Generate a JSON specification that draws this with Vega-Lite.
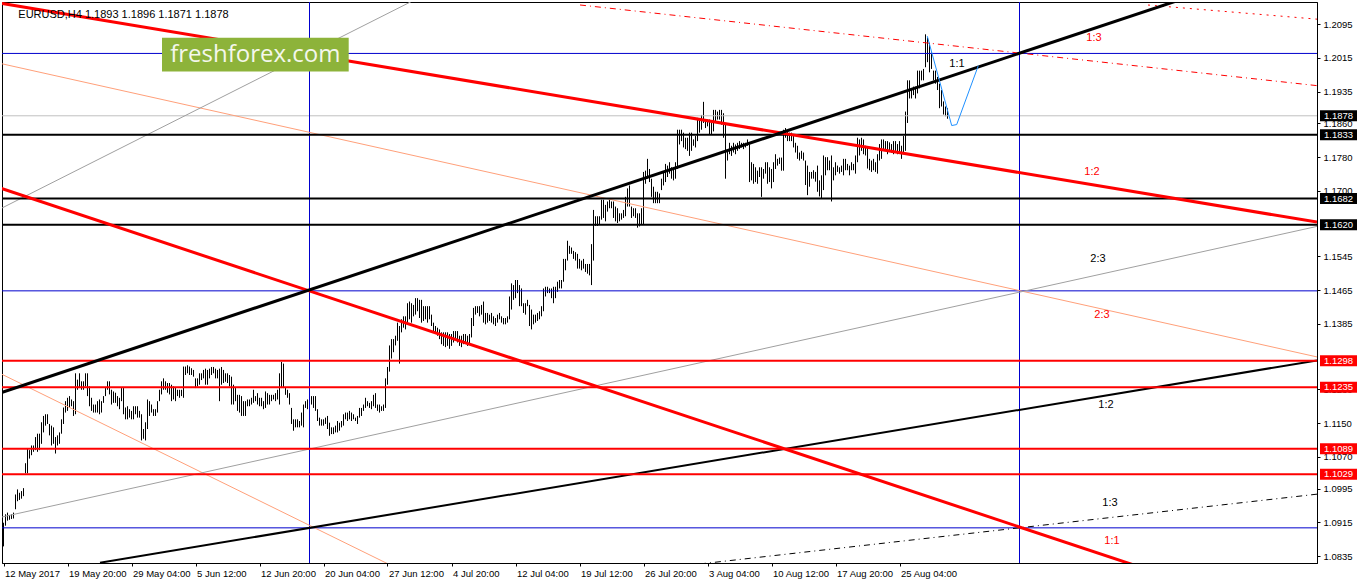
{
  "$schema": "https://vega.github.io/schema/vega-lite/v6.json",
  "width": 1315,
  "height": 561,
  "autosize": {"type": "none"},
  "padding": {"left": 2, "top": 2, "right": 41, "bottom": 21},
  "background": "white",
  "config": {
    "view": {"stroke": "black", "strokeWidth": 1},
    "text": {"font": "Liberation Sans"}
  },
  "datasets": {
    "bars": [
      {"i":0,"h":1.0914,"l":1.0858},{"i":1,"h":1.0934,"l":1.0907},{"i":2,"h":1.0938,"l":1.0919},{"i":3,"h":1.0932,"l":1.0921},
      {"i":4,"h":1.0934,"l":1.0923},{"i":5,"h":1.0938,"l":1.0924},{"i":6,"h":1.0981,"l":1.0946},{"i":7,"h":1.0993,"l":1.0965},
      {"i":8,"h":1.0985,"l":1.0968},{"i":9,"h":1.0989,"l":1.0971},{"i":10,"h":1.0996,"l":1.0977},{"i":11,"h":1.1055,"l":1.1031},
      {"i":12,"h":1.1090,"l":1.1031},{"i":13,"h":1.1086,"l":1.1066},{"i":14,"h":1.1097,"l":1.1074},{"i":15,"h":1.1097,"l":1.1082},
      {"i":16,"h":1.1117,"l":1.1086},{"i":17,"h":1.1125,"l":1.1082},{"i":18,"h":1.1125,"l":1.1086},{"i":19,"h":1.1152,"l":1.1101},
      {"i":20,"h":1.1167,"l":1.1128},{"i":21,"h":1.1171,"l":1.1144},{"i":22,"h":1.1171,"l":1.1148},{"i":23,"h":1.1148,"l":1.1121},
      {"i":24,"h":1.1144,"l":1.1097},{"i":25,"h":1.1140,"l":1.1101},{"i":26,"h":1.1117,"l":1.1078},{"i":27,"h":1.1121,"l":1.1097},
      {"i":28,"h":1.1128,"l":1.1101},{"i":29,"h":1.1159,"l":1.1125},{"i":30,"h":1.1187,"l":1.1148},{"i":31,"h":1.1202,"l":1.1175},
      {"i":32,"h":1.1210,"l":1.1179},{"i":33,"h":1.1214,"l":1.1187},{"i":34,"h":1.1206,"l":1.1190},{"i":35,"h":1.1202,"l":1.1167},
      {"i":36,"h":1.1268,"l":1.1171},{"i":37,"h":1.1253,"l":1.1229},{"i":38,"h":1.1268,"l":1.1233},{"i":39,"h":1.1249,"l":1.1229},
      {"i":40,"h":1.1249,"l":1.1229},{"i":41,"h":1.1268,"l":1.1237},{"i":42,"h":1.1268,"l":1.1214},{"i":43,"h":1.1237,"l":1.1190},
      {"i":44,"h":1.1210,"l":1.1179},{"i":45,"h":1.1194,"l":1.1175},{"i":46,"h":1.1194,"l":1.1175},{"i":47,"h":1.1202,"l":1.1175},
      {"i":48,"h":1.1206,"l":1.1171},{"i":49,"h":1.1202,"l":1.1175},{"i":50,"h":1.1214,"l":1.1198},{"i":51,"h":1.1233,"l":1.1214},
      {"i":52,"h":1.1249,"l":1.1229},{"i":53,"h":1.1249,"l":1.1218},{"i":54,"h":1.1229,"l":1.1194},{"i":55,"h":1.1225,"l":1.1198},
      {"i":56,"h":1.1222,"l":1.1198},{"i":57,"h":1.1214,"l":1.1190},{"i":58,"h":1.1210,"l":1.1183},{"i":59,"h":1.1233,"l":1.1202},
      {"i":60,"h":1.1233,"l":1.1171},{"i":61,"h":1.1187,"l":1.1159},{"i":62,"h":1.1190,"l":1.1159},{"i":63,"h":1.1183,"l":1.1163},
      {"i":64,"h":1.1179,"l":1.1159},{"i":65,"h":1.1190,"l":1.1159},{"i":66,"h":1.1190,"l":1.1171},{"i":67,"h":1.1190,"l":1.1163},
      {"i":68,"h":1.1179,"l":1.1163},{"i":69,"h":1.1171,"l":1.1109},{"i":70,"h":1.1136,"l":1.1113},{"i":71,"h":1.1152,"l":1.1109},
      {"i":72,"h":1.1206,"l":1.1136},{"i":73,"h":1.1202,"l":1.1167},{"i":74,"h":1.1194,"l":1.1175},{"i":75,"h":1.1183,"l":1.1167},
      {"i":76,"h":1.1183,"l":1.1167},{"i":77,"h":1.1202,"l":1.1175},{"i":78,"h":1.1229,"l":1.1202},{"i":79,"h":1.1249,"l":1.1218},
      {"i":80,"h":1.1256,"l":1.1229},{"i":81,"h":1.1249,"l":1.1229},{"i":82,"h":1.1245,"l":1.1222},{"i":83,"h":1.1245,"l":1.1218},
      {"i":84,"h":1.1241,"l":1.1202},{"i":85,"h":1.1237,"l":1.1206},{"i":86,"h":1.1233,"l":1.1202},{"i":87,"h":1.1229,"l":1.1214},
      {"i":88,"h":1.1229,"l":1.1210},{"i":89,"h":1.1229,"l":1.1214},{"i":90,"h":1.1284,"l":1.1210},{"i":91,"h":1.1284,"l":1.1264},
      {"i":92,"h":1.1287,"l":1.1268},{"i":93,"h":1.1284,"l":1.1264},{"i":94,"h":1.1280,"l":1.1264},{"i":95,"h":1.1276,"l":1.1260},
      {"i":96,"h":1.1256,"l":1.1233},{"i":97,"h":1.1256,"l":1.1237},{"i":98,"h":1.1268,"l":1.1241},
      {"i":99,"h":1.1268,"l":1.1252},{"i":100,"h":1.1276,"l":1.1256},{"i":101,"h":1.1279,"l":1.1241},{"i":102,"h":1.1276,"l":1.1241},
      {"i":103,"h":1.1279,"l":1.1256},{"i":104,"h":1.1283,"l":1.1264},{"i":105,"h":1.1283,"l":1.1268},{"i":106,"h":1.1279,"l":1.1256},
      {"i":107,"h":1.1276,"l":1.1256},{"i":108,"h":1.1279,"l":1.1202},{"i":109,"h":1.1283,"l":1.1241},{"i":110,"h":1.1276,"l":1.1245},
      {"i":111,"h":1.1268,"l":1.1248},{"i":112,"h":1.1268,"l":1.1245},{"i":113,"h":1.1264,"l":1.1237},{"i":114,"h":1.1260,"l":1.1194},
      {"i":115,"h":1.1241,"l":1.1194},{"i":116,"h":1.1233,"l":1.1202},{"i":117,"h":1.1217,"l":1.1179},{"i":118,"h":1.1217,"l":1.1175},
      {"i":119,"h":1.1214,"l":1.1167},{"i":120,"h":1.1202,"l":1.1167},{"i":121,"h":1.1202,"l":1.1167},{"i":122,"h":1.1206,"l":1.1190},
      {"i":123,"h":1.1206,"l":1.1190},{"i":124,"h":1.1210,"l":1.1194},{"i":125,"h":1.1229,"l":1.1198},{"i":126,"h":1.1214,"l":1.1202},
      {"i":127,"h":1.1221,"l":1.1194},{"i":128,"h":1.1210,"l":1.1190},{"i":129,"h":1.1210,"l":1.1190},{"i":130,"h":1.1202,"l":1.1183},
      {"i":131,"h":1.1225,"l":1.1186},{"i":132,"h":1.1221,"l":1.1194},{"i":133,"h":1.1217,"l":1.1194},{"i":134,"h":1.1217,"l":1.1202},
      {"i":135,"h":1.1217,"l":1.1206},{"i":136,"h":1.1221,"l":1.1202},{"i":137,"h":1.1229,"l":1.1206},{"i":138,"h":1.1268,"l":1.1194},
      {"i":139,"h":1.1295,"l":1.1233},{"i":140,"h":1.1291,"l":1.1233},{"i":141,"h":1.1233,"l":1.1217},{"i":142,"h":1.1229,"l":1.1210},
      {"i":143,"h":1.1221,"l":1.1194},{"i":144,"h":1.1186,"l":1.1148},{"i":145,"h":1.1159,"l":1.1132},{"i":146,"h":1.1159,"l":1.1140},
      {"i":147,"h":1.1159,"l":1.1140},{"i":148,"h":1.1155,"l":1.1140},{"i":149,"h":1.1175,"l":1.1144},{"i":150,"h":1.1194,"l":1.1140},
      {"i":151,"h":1.1202,"l":1.1186},{"i":152,"h":1.1206,"l":1.1183},{"i":153,"h":1.1210,"l":1.1190},{"i":154,"h":1.1214,"l":1.1194},
      {"i":155,"h":1.1214,"l":1.1186},{"i":156,"h":1.1214,"l":1.1179},{"i":157,"h":1.1183,"l":1.1155},{"i":158,"h":1.1163,"l":1.1144},
      {"i":159,"h":1.1159,"l":1.1144},{"i":160,"h":1.1159,"l":1.1144},{"i":161,"h":1.1163,"l":1.1148},{"i":162,"h":1.1167,"l":1.1136},
      {"i":163,"h":1.1151,"l":1.1120},{"i":164,"h":1.1140,"l":1.1124},{"i":165,"h":1.1140,"l":1.1124},{"i":166,"h":1.1144,"l":1.1128},
      {"i":167,"h":1.1155,"l":1.1128},{"i":168,"h":1.1151,"l":1.1132},{"i":169,"h":1.1155,"l":1.1140},{"i":170,"h":1.1171,"l":1.1144},
      {"i":171,"h":1.1175,"l":1.1159},{"i":172,"h":1.1175,"l":1.1155},{"i":173,"h":1.1179,"l":1.1159},{"i":174,"h":1.1175,"l":1.1155},
      {"i":175,"h":1.1171,"l":1.1159},{"i":176,"h":1.1163,"l":1.1155},{"i":177,"h":1.1167,"l":1.1148},{"i":178,"h":1.1186,"l":1.1163},
      {"i":179,"h":1.1186,"l":1.1167},{"i":180,"h":1.1194,"l":1.1179},{"i":181,"h":1.1210,"l":1.1186},{"i":182,"h":1.1202,"l":1.1190},
      {"i":183,"h":1.1198,"l":1.1186},{"i":184,"h":1.1202,"l":1.1183},{"i":185,"h":1.1217,"l":1.1190},{"i":186,"h":1.1221,"l":1.1186},
      {"i":187,"h":1.1194,"l":1.1179},{"i":188,"h":1.1194,"l":1.1175},{"i":189,"h":1.1190,"l":1.1179},{"i":190,"h":1.1194,"l":1.1179},
      {"i":191,"h":1.1256,"l":1.1186},{"i":192,"h":1.1283,"l":1.1241},{"i":193,"h":1.1334,"l":1.1272},{"i":194,"h":1.1349,"l":1.1303},
      {"i":195,"h":1.1349,"l":1.1318},{"i":196,"h":1.1357,"l":1.1334},{"i":197,"h":1.1388,"l":1.1345},{"i":198,"h":1.1380,"l":1.1291},
      {"i":199,"h":1.1396,"l":1.1365},{"i":200,"h":1.1403,"l":1.1376},{"i":201,"h":1.1403,"l":1.1372},{"i":202,"h":1.1434,"l":1.1388},
      {"i":203,"h":1.1438,"l":1.1396},{"i":204,"h":1.1434,"l":1.1388},{"i":205,"h":1.1430,"l":1.1403},{"i":206,"h":1.1446,"l":1.1407},
      {"i":207,"h":1.1446,"l":1.1415},{"i":208,"h":1.1442,"l":1.1399},{"i":209,"h":1.1442,"l":1.1388},{"i":210,"h":1.1427,"l":1.1392},
      {"i":211,"h":1.1427,"l":1.1396},{"i":212,"h":1.1427,"l":1.1388},{"i":213,"h":1.1427,"l":1.1396},{"i":214,"h":1.1407,"l":1.1380},
      {"i":215,"h":1.1388,"l":1.1365},{"i":216,"h":1.1380,"l":1.1365},{"i":217,"h":1.1376,"l":1.1357},{"i":218,"h":1.1372,"l":1.1349},
      {"i":219,"h":1.1365,"l":1.1337},{"i":220,"h":1.1365,"l":1.1333},{"i":221,"h":1.1365,"l":1.1330},{"i":222,"h":1.1365,"l":1.1333},
      {"i":223,"h":1.1361,"l":1.1326},{"i":224,"h":1.1361,"l":1.1333},{"i":225,"h":1.1368,"l":1.1341},{"i":226,"h":1.1368,"l":1.1345},
      {"i":227,"h":1.1368,"l":1.1341},{"i":228,"h":1.1357,"l":1.1333},{"i":229,"h":1.1357,"l":1.1330},{"i":230,"h":1.1361,"l":1.1337},
      {"i":231,"h":1.1361,"l":1.1341},{"i":232,"h":1.1357,"l":1.1333},{"i":233,"h":1.1361,"l":1.1337},{"i":234,"h":1.1399,"l":1.1353},
      {"i":235,"h":1.1423,"l":1.1380},{"i":236,"h":1.1427,"l":1.1407},{"i":237,"h":1.1427,"l":1.1411},{"i":238,"h":1.1427,"l":1.1403},
      {"i":239,"h":1.1430,"l":1.1407},{"i":240,"h":1.1438,"l":1.1388},{"i":241,"h":1.1411,"l":1.1384},{"i":242,"h":1.1411,"l":1.1388},
      {"i":243,"h":1.1407,"l":1.1392},{"i":244,"h":1.1411,"l":1.1388},{"i":245,"h":1.1403,"l":1.1384},{"i":246,"h":1.1399,"l":1.1380},
      {"i":247,"h":1.1407,"l":1.1388},{"i":248,"h":1.1411,"l":1.1396},{"i":249,"h":1.1403,"l":1.1388},{"i":250,"h":1.1399,"l":1.1384},
      {"i":251,"h":1.1399,"l":1.1384},{"i":252,"h":1.1403,"l":1.1388},{"i":253,"h":1.1450,"l":1.1396},{"i":254,"h":1.1481,"l":1.1419},
      {"i":255,"h":1.1477,"l":1.1442},{"i":256,"h":1.1489,"l":1.1446},{"i":257,"h":1.1489,"l":1.1458},{"i":258,"h":1.1477,"l":1.1427},
      {"i":259,"h":1.1469,"l":1.1427},{"i":260,"h":1.1434,"l":1.1411},{"i":261,"h":1.1434,"l":1.1407},{"i":262,"h":1.1442,"l":1.1427},
      {"i":263,"h":1.1430,"l":1.1380},{"i":264,"h":1.1419,"l":1.1372},{"i":265,"h":1.1407,"l":1.1384},{"i":266,"h":1.1407,"l":1.1388},
      {"i":267,"h":1.1411,"l":1.1392},{"i":268,"h":1.1415,"l":1.1396},{"i":269,"h":1.1427,"l":1.1403},{"i":270,"h":1.1469,"l":1.1415},
      {"i":271,"h":1.1473,"l":1.1450},{"i":272,"h":1.1473,"l":1.1458},{"i":273,"h":1.1469,"l":1.1458},{"i":274,"h":1.1469,"l":1.1446},
      {"i":275,"h":1.1473,"l":1.1434},{"i":276,"h":1.1473,"l":1.1446},{"i":277,"h":1.1485,"l":1.1461},{"i":278,"h":1.1489,"l":1.1469},
      {"i":279,"h":1.1489,"l":1.1469},{"i":280,"h":1.1539,"l":1.1485},{"i":281,"h":1.1539,"l":1.1512},{"i":282,"h":1.1582,"l":1.1535},
      {"i":283,"h":1.1570,"l":1.1551},{"i":284,"h":1.1566,"l":1.1551},{"i":285,"h":1.1558,"l":1.1539},{"i":286,"h":1.1555,"l":1.1535},
      {"i":287,"h":1.1551,"l":1.1516},{"i":288,"h":1.1539,"l":1.1516},{"i":289,"h":1.1535,"l":1.1512},{"i":290,"h":1.1539,"l":1.1516},
      {"i":291,"h":1.1527,"l":1.1508},{"i":292,"h":1.1527,"l":1.1504},{"i":293,"h":1.1527,"l":1.1500},{"i":294,"h":1.1574,"l":1.1477},
      {"i":295,"h":1.1655,"l":1.1535},{"i":296,"h":1.1640,"l":1.1617},{"i":297,"h":1.1640,"l":1.1617},{"i":298,"h":1.1640,"l":1.1621},
      {"i":299,"h":1.1679,"l":1.1632},{"i":300,"h":1.1679,"l":1.1636},{"i":301,"h":1.1667,"l":1.1628},{"i":302,"h":1.1675,"l":1.1651},
      {"i":303,"h":1.1679,"l":1.1659},{"i":304,"h":1.1675,"l":1.1659},{"i":305,"h":1.1675,"l":1.1636},{"i":306,"h":1.1663,"l":1.1628},
      {"i":307,"h":1.1659,"l":1.1624},{"i":308,"h":1.1647,"l":1.1628},{"i":309,"h":1.1647,"l":1.1632},{"i":310,"h":1.1655,"l":1.1636},
      {"i":311,"h":1.1686,"l":1.1640},{"i":312,"h":1.1706,"l":1.1663},{"i":313,"h":1.1713,"l":1.1663},{"i":314,"h":1.1663,"l":1.1636},
      {"i":315,"h":1.1659,"l":1.1640},{"i":316,"h":1.1659,"l":1.1636},{"i":317,"h":1.1647,"l":1.1613},{"i":318,"h":1.1647,"l":1.1616},
      {"i":319,"h":1.1659,"l":1.1620},{"i":320,"h":1.1745,"l":1.1620},{"i":321,"h":1.1748,"l":1.1717},{"i":322,"h":1.1776,"l":1.1729},
      {"i":323,"h":1.1752,"l":1.1721},{"i":324,"h":1.1729,"l":1.1686},{"i":325,"h":1.1710,"l":1.1671},{"i":326,"h":1.1698,"l":1.1671},
      {"i":327,"h":1.1698,"l":1.1671},{"i":328,"h":1.1694,"l":1.1671},{"i":329,"h":1.1729,"l":1.1702},{"i":330,"h":1.1745,"l":1.1713},
      {"i":331,"h":1.1764,"l":1.1721},{"i":332,"h":1.1760,"l":1.1733},{"i":333,"h":1.1768,"l":1.1741},{"i":334,"h":1.1756,"l":1.1729},
      {"i":335,"h":1.1752,"l":1.1725},{"i":336,"h":1.1768,"l":1.1729},{"i":337,"h":1.1845,"l":1.1752},{"i":338,"h":1.1845,"l":1.1810},
      {"i":339,"h":1.1845,"l":1.1818},{"i":340,"h":1.1838,"l":1.1803},{"i":341,"h":1.1826,"l":1.1799},{"i":342,"h":1.1826,"l":1.1795},
      {"i":343,"h":1.1838,"l":1.1783},{"i":344,"h":1.1838,"l":1.1795},{"i":345,"h":1.1822,"l":1.1807},{"i":346,"h":1.1830,"l":1.1803},
      {"i":347,"h":1.1873,"l":1.1818},{"i":348,"h":1.1869,"l":1.1838},{"i":349,"h":1.1880,"l":1.1845},{"i":350,"h":1.1911,"l":1.1861},
      {"i":351,"h":1.1865,"l":1.1849},{"i":352,"h":1.1869,"l":1.1853},{"i":353,"h":1.1869,"l":1.1834},{"i":354,"h":1.1861,"l":1.1834},
      {"i":355,"h":1.1892,"l":1.1841},{"i":356,"h":1.1892,"l":1.1861},{"i":357,"h":1.1888,"l":1.1869},{"i":358,"h":1.1892,"l":1.1869},
      {"i":359,"h":1.1892,"l":1.1857},{"i":360,"h":1.1884,"l":1.1826},{"i":361,"h":1.1857,"l":1.1729},{"i":362,"h":1.1799,"l":1.1772},
      {"i":363,"h":1.1814,"l":1.1787},{"i":364,"h":1.1807,"l":1.1783},{"i":365,"h":1.1814,"l":1.1791},{"i":366,"h":1.1810,"l":1.1787},
      {"i":367,"h":1.1814,"l":1.1795},{"i":368,"h":1.1818,"l":1.1799},{"i":369,"h":1.1814,"l":1.1803},{"i":370,"h":1.1814,"l":1.1799},
      {"i":371,"h":1.1814,"l":1.1803},{"i":372,"h":1.1822,"l":1.1807},{"i":373,"h":1.1810,"l":1.1721},{"i":374,"h":1.1768,"l":1.1725},
      {"i":375,"h":1.1764,"l":1.1717},{"i":376,"h":1.1756,"l":1.1721},{"i":377,"h":1.1748,"l":1.1717},{"i":378,"h":1.1756,"l":1.1733},
      {"i":379,"h":1.1756,"l":1.1686},{"i":380,"h":1.1752,"l":1.1729},{"i":381,"h":1.1768,"l":1.1741},{"i":382,"h":1.1768,"l":1.1717},
      {"i":383,"h":1.1756,"l":1.1721},{"i":384,"h":1.1752,"l":1.1706},{"i":385,"h":1.1768,"l":1.1721},{"i":386,"h":1.1787,"l":1.1752},
      {"i":387,"h":1.1776,"l":1.1760},{"i":388,"h":1.1779,"l":1.1764},{"i":389,"h":1.1779,"l":1.1748},{"i":390,"h":1.1845,"l":1.1748},
      {"i":391,"h":1.1849,"l":1.1826},{"i":392,"h":1.1841,"l":1.1818},{"i":393,"h":1.1838,"l":1.1818},{"i":394,"h":1.1838,"l":1.1818},
      {"i":395,"h":1.1830,"l":1.1803},{"i":396,"h":1.1814,"l":1.1791},{"i":397,"h":1.1807,"l":1.1776},{"i":398,"h":1.1791,"l":1.1772},
      {"i":399,"h":1.1795,"l":1.1776},{"i":400,"h":1.1791,"l":1.1772},{"i":401,"h":1.1772,"l":1.1714},{"i":402,"h":1.1760,"l":1.1690},
      {"i":403,"h":1.1745,"l":1.1710},{"i":404,"h":1.1745,"l":1.1729},{"i":405,"h":1.1749,"l":1.1729},{"i":406,"h":1.1745,"l":1.1722},
      {"i":407,"h":1.1760,"l":1.1698},{"i":408,"h":1.1725,"l":1.1687},{"i":409,"h":1.1737,"l":1.1683},{"i":410,"h":1.1784,"l":1.1702},
      {"i":411,"h":1.1780,"l":1.1737},{"i":412,"h":1.1780,"l":1.1749},{"i":413,"h":1.1772,"l":1.1749},{"i":414,"h":1.1784,"l":1.1675},
      {"i":415,"h":1.1756,"l":1.1725},{"i":416,"h":1.1768,"l":1.1737},{"i":417,"h":1.1760,"l":1.1745},{"i":418,"h":1.1756,"l":1.1741},
      {"i":419,"h":1.1760,"l":1.1745},{"i":420,"h":1.1776,"l":1.1737},{"i":421,"h":1.1776,"l":1.1749},{"i":422,"h":1.1764,"l":1.1749},
      {"i":423,"h":1.1760,"l":1.1737},{"i":424,"h":1.1768,"l":1.1749},{"i":425,"h":1.1764,"l":1.1749},{"i":426,"h":1.1784,"l":1.1741},
      {"i":427,"h":1.1826,"l":1.1768},{"i":428,"h":1.1822,"l":1.1784},{"i":429,"h":1.1826,"l":1.1795},{"i":430,"h":1.1822,"l":1.1787},
      {"i":431,"h":1.1807,"l":1.1784},{"i":432,"h":1.1803,"l":1.1753},{"i":433,"h":1.1776,"l":1.1749},{"i":434,"h":1.1772,"l":1.1745},
      {"i":435,"h":1.1776,"l":1.1749},{"i":436,"h":1.1768,"l":1.1745},{"i":437,"h":1.1787,"l":1.1741},{"i":438,"h":1.1811,"l":1.1772},
      {"i":439,"h":1.1822,"l":1.1776},{"i":440,"h":1.1822,"l":1.1795},{"i":441,"h":1.1818,"l":1.1795},{"i":442,"h":1.1818,"l":1.1787},
      {"i":443,"h":1.1815,"l":1.1795},{"i":444,"h":1.1811,"l":1.1791},{"i":445,"h":1.1818,"l":1.1787},{"i":446,"h":1.1818,"l":1.1795},
      {"i":447,"h":1.1811,"l":1.1787},{"i":448,"h":1.1818,"l":1.1791},{"i":449,"h":1.1807,"l":1.1776},{"i":450,"h":1.1830,"l":1.1787},
      {"i":451,"h":1.1888,"l":1.1795},{"i":452,"h":1.1962,"l":1.1861},{"i":453,"h":1.1962,"l":1.1919},{"i":454,"h":1.1943,"l":1.1919},
      {"i":455,"h":1.1947,"l":1.1927},{"i":456,"h":1.1947,"l":1.1919},{"i":457,"h":1.1985,"l":1.1931},{"i":458,"h":1.1985,"l":1.1943},
      {"i":459,"h":1.1985,"l":1.1962},{"i":460,"h":1.1989,"l":1.1962},{"i":461,"h":1.2071,"l":1.1993},{"i":462,"h":1.2063,"l":1.2005},
      {"i":463,"h":1.2051,"l":1.1981},{"i":464,"h":1.2028,"l":1.1989},{"i":465,"h":1.1985,"l":1.1962},{"i":466,"h":1.1985,"l":1.1954},
      {"i":467,"h":1.1970,"l":1.1939},{"i":468,"h":1.1954,"l":1.1896},{"i":469,"h":1.1939,"l":1.1900},{"i":470,"h":1.1912,"l":1.1881},
      {"i":471,"h":1.1900,"l":1.1877},{"i":472,"h":1.1896,"l":1.1871}
    ],
    "levels": [
      {"kind":"last","p":1.1878},
      {"kind":"support","p":1.1833},{"kind":"support","p":1.1682},{"kind":"support","p":1.1620},
      {"kind":"level","p":1.1298},{"kind":"level","p":1.1235},{"kind":"level","p":1.1089},{"kind":"level","p":1.1029},
      {"kind":"marker","p":1.20257},{"kind":"marker","p":1.14633},{"kind":"marker","p":1.09019}
    ],
    "verticals": [{"i":153},{"i":508}],
    "trends": [
      {"id":"channel","i":-1.75,"p":1.12214},{"id":"channel","i":656.75,"p":1.22609},
      {"id":"upper","i":-1.75,"p":1.2145},{"id":"upper","i":656.75,"p":1.16262},
      {"id":"lower","i":-1.75,"p":1.17069},{"id":"lower","i":656.75,"p":1.06697},
      {"id":"downFan23","i":-1.75,"p":1.20022},{"id":"downFan23","i":656.75,"p":1.13068},
      {"id":"downFanLow","i":-1.75,"p":1.12679},{"id":"downFanLow","i":198.25,"p":1.08026},
      {"id":"grayUp","i":-1.75,"p":1.16572},{"id":"grayUp","i":208.25,"p":1.2159},
      {"id":"upFan23","i":-1.75,"p":1.09266},{"id":"upFan23","i":656.75,"p":1.1616},
      {"id":"upFan12","i":48.25,"p":1.08193},{"id":"upFan12","i":656.75,"p":1.12986},
      {"id":"upFan13","i":348.25,"p":1.08164},{"id":"upFan13","i":656.75,"p":1.09817},
      {"id":"downFan13","i":288.25,"p":1.21405},{"id":"downFan13","i":656.75,"p":1.19494},
      {"id":"downFanTop","i":572.25,"p":1.21404},{"id":"downFanTop","i":656.75,"p":1.21069},
      {"id":"projection","i":461.9,"p":1.20666},{"id":"projection","i":474.1,"p":1.18549},
      {"id":"projection","i":476.6,"p":1.18572},{"id":"projection","i":487.4,"p":1.19968}
    ],
    "fanLabels": [
      {"fan":"down","t":"1:3","i":545.25,"p":1.20613},
      {"fan":"up","t":"1:1","i":476.75,"p":1.20008},
      {"fan":"down","t":"1:2","i":544.25,"p":1.17449},
      {"fan":"up","t":"2:3","i":547.25,"p":1.15378},
      {"fan":"down","t":"2:3","i":549.25,"p":1.14052},
      {"fan":"up","t":"1:2","i":551.25,"p":1.11934},
      {"fan":"up","t":"1:3","i":553.25,"p":1.09608},
      {"fan":"down","t":"1:1","i":554.25,"p":1.087}
    ],
    "tags": [
      {"kind":"last","p":1.1878},{"kind":"support","p":1.1833},{"kind":"support","p":1.1682},{"kind":"support","p":1.162},
      {"kind":"level","p":1.1298},{"kind":"level","p":1.1235},{"kind":"level","p":1.1089},{"kind":"level","p":1.1029}
    ]
  },
  "layer": [
    {
      "data": {"name": "bars"},
      "mark": {"type": "rule", "color": "black", "strokeWidth": 1},
      "encoding": {
        "x": {
          "field": "i", "type": "quantitative",
          "scale": {"domain": [-0.75, 656.75], "nice": false, "zero": false},
          "axis": {
            "title": null, "grid": false,
            "values": [0, 32, 64, 96, 128, 160, 192, 224, 256, 288, 320, 352, 384, 416, 448],
            "labelExpr": "['12 May 2017','19 May 20:00','29 May 04:00','5 Jun 12:00','12 Jun 20:00','20 Jun 04:00','27 Jun 12:00','4 Jul 20:00','12 Jul 04:00','19 Jul 12:00','26 Jul 20:00','3 Aug 04:00','10 Aug 12:00','17 Aug 20:00','25 Aug 04:00'][round(datum.value / 32)]",
            "labelAlign": "left", "labelBaseline": "top", "labelOffset": 1, "labelPadding": 2,
            "labelFont": "Liberation Sans", "labelFontSize": 9.5, "labelColor": "black",
            "labelOverlap": false, "labelFlush": false,
            "domainColor": "black", "tickColor": "black", "tickSize": 3
          }
        },
        "y": {
          "field": "l", "type": "quantitative",
          "scale": {"domain": [1.08305, 1.21357], "nice": false, "zero": false},
          "axis": {
            "orient": "right", "title": null, "grid": false,
            "values": [1.2095, 1.2015, 1.1935, 1.186, 1.178, 1.17, 1.1545, 1.1465, 1.1385, 1.123, 1.115, 1.107, 1.0995, 1.0915, 1.0835],
            "format": ".4f",
            "labelFont": "Liberation Sans", "labelFontSize": 9.5, "labelColor": "black",
            "labelPadding": 3, "labelOverlap": false, "labelFlush": false,
            "domainColor": "black", "tickColor": "black", "tickSize": 3
          }
        },
        "y2": {"field": "h"}
      }
    },
    {
      "data": {"name": "levels"},
      "transform": [{"filter": "datum.kind === 'last'"}],
      "mark": {"type": "rule", "color": "#C0C0C0", "strokeWidth": 1},
      "encoding": {"y": {"field": "p", "type": "quantitative"}}
    },
    {
      "data": {"name": "levels"},
      "transform": [{"filter": "datum.kind === 'marker'"}],
      "mark": {"type": "rule", "color": "#0000CD", "strokeWidth": 1},
      "encoding": {"y": {"field": "p", "type": "quantitative"}}
    },
    {
      "data": {"name": "verticals"},
      "mark": {"type": "rule", "color": "#0000CD", "strokeWidth": 1},
      "encoding": {"x": {"field": "i", "type": "quantitative"}}
    },
    {
      "data": {"name": "trends"},
      "transform": [{"filter": "datum.id === 'downFan23' || datum.id === 'downFanLow'"}],
      "mark": {"type": "line", "color": "#FFA07A", "strokeWidth": 1, "clip": true},
      "encoding": {
        "x": {"field": "i", "type": "quantitative"},
        "y": {"field": "p", "type": "quantitative"},
        "detail": {"field": "id"}
      }
    },
    {
      "data": {"name": "trends"},
      "transform": [{"filter": "datum.id === 'grayUp' || datum.id === 'upFan23'"}],
      "mark": {"type": "line", "color": "#A0A0A0", "strokeWidth": 1, "clip": true},
      "encoding": {
        "x": {"field": "i", "type": "quantitative"},
        "y": {"field": "p", "type": "quantitative"},
        "detail": {"field": "id"}
      }
    },
    {
      "data": {"name": "trends"},
      "transform": [{"filter": "datum.id === 'upFan13'"}],
      "mark": {"type": "line", "color": "black", "strokeWidth": 1, "strokeDash": [6, 4, 1, 4], "clip": true},
      "encoding": {
        "x": {"field": "i", "type": "quantitative"},
        "y": {"field": "p", "type": "quantitative"}
      }
    },
    {
      "data": {"name": "trends"},
      "transform": [{"filter": "datum.id === 'downFan13'"}],
      "mark": {"type": "line", "color": "red", "strokeWidth": 1, "strokeDash": [6, 4, 1, 4], "clip": true},
      "encoding": {
        "x": {"field": "i", "type": "quantitative"},
        "y": {"field": "p", "type": "quantitative"}
      }
    },
    {
      "data": {"name": "trends"},
      "transform": [{"filter": "datum.id === 'downFanTop'"}],
      "mark": {"type": "line", "color": "red", "strokeWidth": 1, "strokeDash": [2, 5], "clip": true},
      "encoding": {
        "x": {"field": "i", "type": "quantitative"},
        "y": {"field": "p", "type": "quantitative"}
      }
    },
    {
      "data": {"name": "trends"},
      "transform": [{"filter": "datum.id === 'upFan12'"}],
      "mark": {"type": "line", "color": "black", "strokeWidth": 2, "clip": true},
      "encoding": {
        "x": {"field": "i", "type": "quantitative"},
        "y": {"field": "p", "type": "quantitative"}
      }
    },
    {
      "data": {"name": "levels"},
      "transform": [{"filter": "datum.kind === 'support'"}],
      "mark": {"type": "rule", "color": "black", "strokeWidth": 2},
      "encoding": {"y": {"field": "p", "type": "quantitative"}}
    },
    {
      "data": {"name": "levels"},
      "transform": [{"filter": "datum.kind === 'level'"}],
      "mark": {"type": "rule", "color": "red", "strokeWidth": 2},
      "encoding": {"y": {"field": "p", "type": "quantitative"}}
    },
    {
      "data": {"name": "trends"},
      "transform": [{"filter": "datum.id === 'upper' || datum.id === 'lower'"}],
      "mark": {"type": "line", "color": "red", "strokeWidth": 3, "clip": true},
      "encoding": {
        "x": {"field": "i", "type": "quantitative"},
        "y": {"field": "p", "type": "quantitative"},
        "detail": {"field": "id"}
      }
    },
    {
      "data": {"name": "trends"},
      "transform": [{"filter": "datum.id === 'channel'"}],
      "mark": {"type": "line", "color": "black", "strokeWidth": 3, "clip": true},
      "encoding": {
        "x": {"field": "i", "type": "quantitative"},
        "y": {"field": "p", "type": "quantitative"}
      }
    },
    {
      "data": {"name": "trends"},
      "transform": [{"filter": "datum.id === 'projection'"}],
      "mark": {"type": "line", "color": "#1E90FF", "strokeWidth": 1, "clip": true},
      "encoding": {
        "x": {"field": "i", "type": "quantitative"},
        "y": {"field": "p", "type": "quantitative"}
      }
    },
    {
      "data": {"name": "fanLabels"},
      "transform": [{"filter": "datum.fan === 'down'"}],
      "mark": {"type": "text", "color": "red", "font": "Liberation Sans", "fontSize": 11, "align": "center", "baseline": "middle"},
      "encoding": {
        "x": {"field": "i", "type": "quantitative"},
        "y": {"field": "p", "type": "quantitative"},
        "text": {"field": "t"}
      }
    },
    {
      "data": {"name": "fanLabels"},
      "transform": [{"filter": "datum.fan === 'up'"}],
      "mark": {"type": "text", "color": "black", "font": "Liberation Sans", "fontSize": 11, "align": "center", "baseline": "middle"},
      "encoding": {
        "x": {"field": "i", "type": "quantitative"},
        "y": {"field": "p", "type": "quantitative"},
        "text": {"field": "t"}
      }
    },
    {
      "data": {"name": "tags"},
      "transform": [{"filter": "datum.kind !== 'level'"}],
      "mark": {"type": "bar", "color": "black", "size": 11, "orient": "horizontal"},
      "encoding": {
        "x": {"datum": 658.25, "type": "quantitative"},
        "x2": {"datum": 676.75},
        "y": {"field": "p", "type": "quantitative"}
      }
    },
    {
      "data": {"name": "tags"},
      "transform": [{"filter": "datum.kind === 'level'"}],
      "mark": {"type": "bar", "color": "red", "size": 11, "orient": "horizontal"},
      "encoding": {
        "x": {"datum": 658.25, "type": "quantitative"},
        "x2": {"datum": 676.75},
        "y": {"field": "p", "type": "quantitative"}
      }
    },
    {
      "data": {"name": "tags"},
      "mark": {"type": "text", "color": "white", "font": "Liberation Sans", "fontSize": 9.5, "align": "center", "baseline": "middle"},
      "encoding": {
        "x": {"datum": 667.5, "type": "quantitative"},
        "y": {"field": "p", "type": "quantitative"},
        "text": {"field": "p", "format": ".4f"}
      }
    },
    {
      "data": {"values": [{"site": "freshforex.com"}]},
      "mark": {"type": "rect", "color": "#8DB33A"},
      "encoding": {
        "x": {"datum": 79.25, "type": "quantitative"},
        "x2": {"datum": 172.6},
        "y": {"datum": 1.20629, "type": "quantitative"},
        "y2": {"datum": 1.19829}
      }
    },
    {
      "data": {"values": [{"site": "freshforex.com"}]},
      "mark": {"type": "text", "color": "#F4F7EC", "font": "Open Sans", "fontSize": 24, "align": "center", "baseline": "middle"},
      "encoding": {
        "x": {"datum": 125.9, "type": "quantitative"},
        "y": {"datum": 1.2023, "type": "quantitative"},
        "text": {"field": "site"}
      }
    },
    {
      "data": {"values": [{"title": "EURUSD,H4  1.1893 1.1896 1.1871 1.1878"}]},
      "mark": {"type": "text", "color": "black", "font": "Liberation Sans", "fontSize": 11, "align": "left", "baseline": "middle"},
      "encoding": {
        "x": {"datum": 7.4, "type": "quantitative"},
        "y": {"datum": 1.21171, "type": "quantitative"},
        "text": {"field": "title"}
      }
    }
  ]
}
